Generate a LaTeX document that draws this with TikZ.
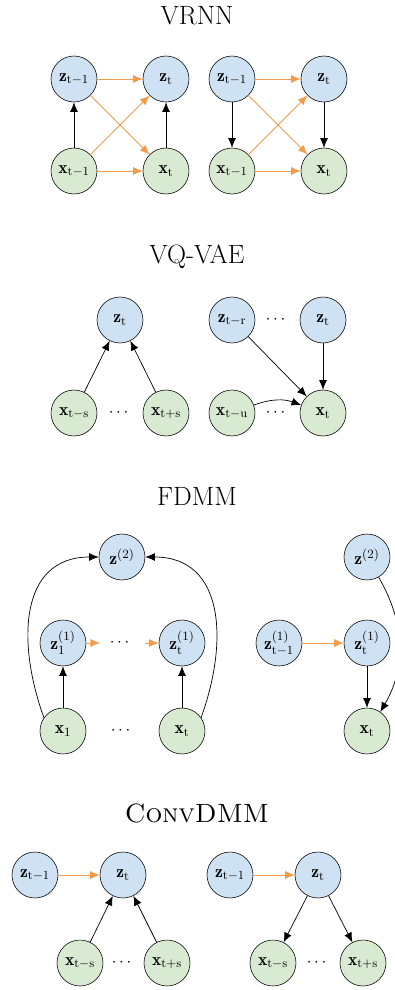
\documentclass[tikz,border=0pt]{standalone}
\usepackage{amsmath}
\usepackage{fontspec}
\usetikzlibrary{arrows.meta}

\definecolor{zblue}{RGB}{207,226,243}
\definecolor{xgreen}{RGB}{217,234,211}
\definecolor{prior}{RGB}{241,155,75}

\newcommand{\bz}{\mathbf{z}}
\newcommand{\bx}{\mathbf{x}}

\tikzset{
  latent/.style={circle, draw, fill=zblue, minimum size=11.5mm, inner sep=0pt,
    font=\fontsize{12.5}{14}\selectfont},
  obs/.style={latent, fill=xgreen},
  skip/.style={inner sep=0pt, font=\fontsize{12.5}{14}\selectfont},
  dep/.style={-{Latex[length=2.4mm,width=2mm]}, line width=0.5pt},
  trans/.style={dep, draw=prior, line width=0.6pt},
  model/.style={anchor=base, font=\fontsize{18.8}{22}\selectfont},
}

\begin{document}
\begin{tikzpicture}[x=0.25mm, y=-0.25mm]
	\useasboundingbox (0,0) rectangle (394,990);

	% VRNN
	\node[model] (vrnn) at (197,25) {VRNN};
	\node[latent] (v1zp) at (74,79) {$\bz_{\mathrm{t-1}}$};
	\node[latent] (v1z) at (166,79) {$\bz_{\mathrm{t}}$};
	\node[obs] (v1xp) at (74,171) {$\bx_{\mathrm{t-1}}$};
	\node[obs] (v1x) at (166,171) {$\bx_{\mathrm{t}}$};
	\draw[dep] (v1xp) -- (v1zp);
	\draw[dep] (v1x) -- (v1z);
	\draw[trans] (v1zp) -- (v1z);
	\draw[trans] (v1xp) -- (v1x);
	\draw[trans] (v1zp) -- (v1x);
	\draw[trans] (v1xp) -- (v1z);

	\node[latent] (v2zp) at (232,79) {$\bz_{\mathrm{t-1}}$};
	\node[latent] (v2z) at (324,79) {$\bz_{\mathrm{t}}$};
	\node[obs] (v2xp) at (232,171) {$\bx_{\mathrm{t-1}}$};
	\node[obs] (v2x) at (324,171) {$\bx_{\mathrm{t}}$};
	\draw[dep] (v2zp) -- (v2xp);
	\draw[dep] (v2z) -- (v2x);
	\draw[trans] (v2zp) -- (v2z);
	\draw[trans] (v2xp) -- (v2x);
	\draw[trans] (v2zp) -- (v2x);
	\draw[trans] (v2xp) -- (v2z);

	% VQ-VAE
	\node[model] (vqvae) at (197,263) {VQ-VAE};
	\node[latent] (q1z) at (120,320) {$\bz_{\mathrm{t}}$};
	\node[obs] (q1xa) at (74,413) {$\bx_{\mathrm{t-s}}$};
	\node[skip] (q1dots) at (120,413) {$\cdots$};
	\node[obs] (q1xb) at (166,413) {$\bx_{\mathrm{t+s}}$};
	\draw[dep] (q1xa) -- (q1z);
	\draw[dep] (q1xb) -- (q1z);

	\node[latent] (q2zp) at (232,320) {$\bz_{\mathrm{t-r}}$};
	\node[skip] (q2dz) at (277,320) {$\cdots$};
	\node[latent] (q2z) at (323,320) {$\bz_{\mathrm{t}}$};
	\node[obs] (q2xp) at (232,413) {$\bx_{\mathrm{t-u}}$};
	\node[skip] (q2dx) at (277,413) {$\cdots$};
	\node[obs] (q2x) at (323,413) {$\bx_{\mathrm{t}}$};
	\draw[dep] (q2zp) -- (q2x);
	\draw[dep] (q2z) -- (q2x);
	\draw[dep] (q2xp) to[out=20, in=160] (q2x);

	% FDMM
	\node[model] (fdmm) at (197,505) {FDMM};
	\node[latent] (f1z2) at (122,557) {$\bz^{(2)}$};
	\node[latent] (f1z1) at (63,643) {$\bz^{(1)}_{1}$};
	\node[skip] (f1dz) at (121,643) {$\cdots$};
	\node[latent] (f1zt) at (182,643) {$\bz^{(1)}_{\mathrm{t}}$};
	\node[obs] (f1x1) at (63,731) {$\bx_{1}$};
	\node[skip] (f1dx) at (122,731) {$\cdots$};
	\node[obs] (f1xt) at (182,731) {$\bx_{\mathrm{t}}$};
	\coordinate (f1a) at (100,643);
	\coordinate (f1b) at (145,643);
	\draw[dep] (f1x1) -- (f1z1);
	\draw[dep] (f1xt) -- (f1zt);
	\draw[trans] (f1z1) -- (f1a);
	\draw[trans] (f1b) -- (f1zt);
	\draw[dep] (f1x1.145) to[out=110, in=180, looseness=1.2] (f1z2);
	\draw[dep] (f1xt.35) to[out=70, in=0, looseness=1.2] (f1z2);

	\node[latent] (f2z2) at (367,557) {$\bz^{(2)}$};
	\node[latent] (f2zp) at (279,643) {$\bz^{(1)}_{\mathrm{t-1}}$};
	\node[latent] (f2z) at (367,643) {$\bz^{(1)}_{\mathrm{t}}$};
	\node[obs] (f2x) at (367,731) {$\bx_{\mathrm{t}}$};
	\draw[trans] (f2zp) -- (f2z);
	\draw[dep] (f2z) -- (f2x);
	\draw[dep] (f2z2.300) to[out=-60, in=60] (f2x.55);

	% ConvDMM
	\node[model] (convdmm) at (197,822) {\textsc{ConvDMM}};
	\node[latent] (c1zp) at (35,875) {$\bz_{\mathrm{t-1}}$};
	\node[latent] (c1z) at (123,875) {$\bz_{\mathrm{t}}$};
	\node[obs] (c1xa) at (80,963) {$\bx_{\mathrm{t-s}}$};
	\node[skip] (c1dots) at (123,963) {$\cdots$};
	\node[obs] (c1xb) at (167,963) {$\bx_{\mathrm{t+s}}$};
	\draw[trans] (c1zp) -- (c1z);
	\draw[dep] (c1xa) -- (c1z);
	\draw[dep] (c1xb) -- (c1z);

	\node[latent] (c2zp) at (230,875) {$\bz_{\mathrm{t-1}}$};
	\node[latent] (c2z) at (318,875) {$\bz_{\mathrm{t}}$};
	\node[obs] (c2xa) at (273,963) {$\bx_{\mathrm{t-s}}$};
	\node[skip] (c2dots) at (318,963) {$\cdots$};
	\node[obs] (c2xb) at (363,963) {$\bx_{\mathrm{t+s}}$};
	\draw[trans] (c2zp) -- (c2z);
	\draw[dep] (c2z) -- (c2xa);
	\draw[dep] (c2z) -- (c2xb);
\end{tikzpicture}
\end{document}
